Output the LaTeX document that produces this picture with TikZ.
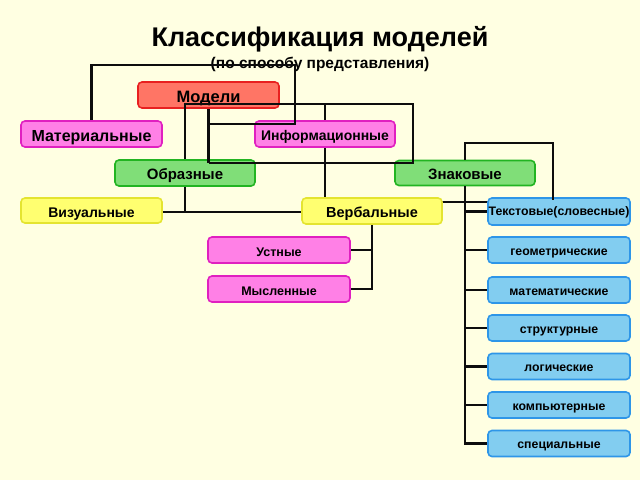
\documentclass[tikz,border=0pt]{standalone}
\usepackage{fontspec}
\setmainfont{Liberation Sans}
\begin{document}
\begin{tikzpicture}[x=1pt,y=-1pt,
  box/.style={draw, rounded corners=4pt, line width=1.6pt, minimum width=141pt, minimum height=26pt, inner sep=0pt, text=black},
  redbox/.style={box, fill=boxred, draw=bordred},
  pinkbox/.style={box, fill=boxpink, draw=bordpink},
  greenbox/.style={box, fill=boxgreen, draw=bordgreen},
  yellowbox/.style={box, fill=boxyellow, draw=bordyellow},
  bluebox/.style={box, fill=boxblue, draw=bordblue},
  conn/.style={line width=2.4pt, black!95, line join=miter},
  tf/.style={font=\bfseries\fontsize{#1}{#1}\selectfont},
  fs/.style={tf=#1, text height={0.69*#1pt+3.5pt}, text depth=0pt},
  lc/.style={tf=#1, text height={0.53*#1pt+4pt}, text depth=0pt}
]
\definecolor{bg}{HTML}{FFFFE2}
\definecolor{boxred}{HTML}{FF7565}
\definecolor{bordred}{HTML}{E82020}
\definecolor{boxpink}{HTML}{FF80E6}
\definecolor{bordpink}{HTML}{E020C0}
\definecolor{boxgreen}{HTML}{80DE78}
\definecolor{bordgreen}{HTML}{22B422}
\definecolor{boxyellow}{HTML}{FFFF70}
\definecolor{bordyellow}{HTML}{E4E430}
\definecolor{boxblue}{HTML}{82CDF0}
\definecolor{bordblue}{HTML}{2E96E8}
\fill[bg] (0,0) rectangle (640,480);
\useasboundingbox (0,0) rectangle (640,480);

% title
\node[tf=27, inner sep=0pt, anchor=base] (title) at (320,46) {Классификация моделей};
\node[tf=15.5, inner sep=0pt, anchor=base] (subtitle) at (320,68.5) {(по способу представления)};

% connector drawn behind boxes
\coordinate (c325top) at (325,104);
\coordinate (c325bot) at (325,202);
\coordinate (txtin) at (490,202);
\draw[conn] (c325top) -- (c325bot) -- (txtin);

% boxes
\node[redbox, fs=16.5] (model) at (208.5,95) {Модели};
\node[pinkbox, fs=16] (mat) at (91.5,134) {Материальные};
\node[pinkbox, fs=14, minimum width=140pt] (inf) at (325,134) {Информационные};
\node[greenbox, fs=15, minimum width=140pt] (obr) at (185,173) {Образные};
\node[greenbox, fs=15, minimum width=140pt, minimum height=25pt] (zn) at (465,173) {Знаковые};
\node[yellowbox, fs=14, minimum height=25pt] (viz) at (91.5,210.5) {Визуальные};
\node[yellowbox, fs=14.5, minimum width=140pt] (verb) at (372,211) {Вербальные};
\node[bluebox, tf=12.3, text height=8.5pt, text depth=0pt, minimum width=142pt, minimum height=27pt] (txt) at (559,211.5) {Текстовые(словесные)};
\node[pinkbox, fs=12.5, minimum width=142pt] (ust) at (279,250) {Устные};
\node[pinkbox, fs=12.5, minimum width=142pt] (mysl) at (279,289) {Мысленные};
\node[bluebox, lc=12.3, minimum width=142pt] (geo) at (559,250) {геометрические};
\node[bluebox, lc=12.3, minimum width=142pt] (math) at (559,290) {математические};
\node[bluebox, lc=12.3, minimum width=142pt] (struct) at (559,328) {структурные};
\node[bluebox, lc=12.3, minimum width=142pt] (logic) at (559,366.5) {логические};
\node[bluebox, lc=12.3, minimum width=142pt] (comp) at (559,405) {компьютерные};
\node[bluebox, lc=12.3, minimum width=142pt] (spec) at (559,443.5) {специальные};

% connectors on top
\coordinate (mA) at (295,65);
\coordinate (mB) at (295,124);
\coordinate (mC) at (208.5,124);
\draw[conn] (mat.north) |- (mA) -- (mB) -- (mC);

\coordinate (oA) at (185,104);
\coordinate (oB) at (413,104);
\coordinate (oC) at (413,163);
\coordinate (oD) at (208.5,163);
\draw[conn] (obr.north) -- (oA) -- (oB) -- (oC) -- (oD);
\draw[conn] (model.south) -- (oD);

\coordinate (vA) at (185,212);
\draw[conn] (obr.south) -- (vA);
\draw[conn] (viz.east |- vA) -- (verb.west |- vA);

\coordinate (wA) at (372,289);
\draw[conn] (verb.south) -- (wA) -- (mysl.east |- wA);
\draw[conn] (verb.south |- ust.east) -- (ust.east);

\coordinate (zA) at (465,143);
\coordinate (zB) at (553,143);
\coordinate (zC) at (553,200);
\draw[conn] (zn.north) -- (zA) -- (zB) -- (zC);

\coordinate (tA) at (465,443.5);
\draw[conn] (zn.south) -- (tA) -- (spec.west);
\foreach \n in {txt,geo,math,struct,logic,comp}
  \draw[conn] (zn.south |- \n.west) -- (\n.west);
\end{tikzpicture}
\end{document}
